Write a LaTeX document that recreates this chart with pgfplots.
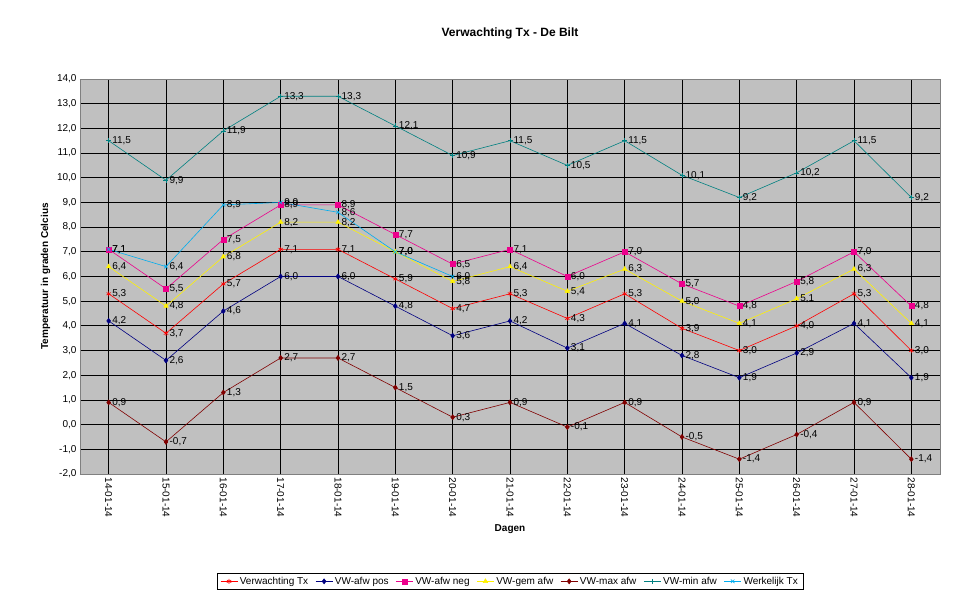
\documentclass[border=0pt]{standalone}
\usepackage{pgfplots}
\pgfplotsset{compat=1.18}
\usetikzlibrary{calc}
\usepackage{fontspec}
\setmainfont{Liberation Sans}
\definecolor{bg}{RGB}{192,192,192}
\definecolor{navy}{RGB}{0,0,128}
\definecolor{maroon}{RGB}{128,0,0}
\definecolor{teal2}{RGB}{0,128,128}
\begin{document}
\begin{tikzpicture}
\begin{axis}[name=ax,
 scale only axis, width=860pt, height=395pt,
 xmin=-0.5, xmax=14.5, ymin=-2, ymax=14,
 ytick={-2,-1,...,14}, xtick={0,...,14},
 xticklabels={14-01-14,15-01-14,16-01-14,17-01-14,18-01-14,19-01-14,20-01-14,21-01-14,22-01-14,23-01-14,24-01-14,25-01-14,26-01-14,27-01-14,28-01-14},
 xticklabel style={rotate=-90,anchor=west,font=\normalsize},
 yticklabel style={font=\normalsize},
 /pgf/number format/assume math mode=true,
 /pgf/number format/.cd,use comma,fixed,fixed zerofill,precision=1,/pgfplots/.cd,
 ymajorgrids, xmajorgrids, grid style={black,line width=0.8pt},
 major tick length=0pt,
 axis background/.style={fill=bg},
 axis line style={gray},
 title={\textbf{Verwachting Tx - De Bilt}}, title style={font=\large,yshift=30pt},
 xlabel={\textbf{Dagen}}, ylabel={\textbf{Temperatuur in graden Celcius}},
 label style={font=\normalsize},
 nodes near coords, every node near coord/.style={anchor=west,font=\normalsize,text=black,
   /pgf/number format/.cd,use comma,fixed,fixed zerofill,precision=1},
 legend columns=-1,
 legend style={at={(0.5,-0.25)},anchor=north,font=\normalsize,draw=black,/tikz/every even column/.append style={column sep=5pt}},
 every axis plot/.append style={line width=0.6pt, mark size=2.5pt},
]
\addplot[red,mark=asterisk] coordinates {(0,5.3)(1,3.7)(2,5.7)(3,7.1)(4,7.1)(5,5.9)(6,4.7)(7,5.3)(8,4.3)(9,5.3)(10,3.9)(11,3.0)(12,4.0)(13,5.3)(14,3.0)};
\addplot[navy,mark=diamond*] coordinates {(0,4.2)(1,2.6)(2,4.6)(3,6.0)(4,6.0)(5,4.8)(6,3.6)(7,4.2)(8,3.1)(9,4.1)(10,2.8)(11,1.9)(12,2.9)(13,4.1)(14,1.9)};
\addplot[magenta,mark=square*] coordinates {(0,7.1)(1,5.5)(2,7.5)(3,8.9)(4,8.9)(5,7.7)(6,6.5)(7,7.1)(8,6.0)(9,7.0)(10,5.7)(11,4.8)(12,5.8)(13,7.0)(14,4.8)};
\addplot[yellow,mark=triangle*] coordinates {(0,6.4)(1,4.8)(2,6.8)(3,8.2)(4,8.2)(5,7.0)(6,5.8)(7,6.4)(8,5.4)(9,6.3)(10,5.0)(11,4.1)(12,5.1)(13,6.3)(14,4.1)};
\addplot[maroon,mark=diamond*] coordinates {(0,0.9)(1,-0.7)(2,1.3)(3,2.7)(4,2.7)(5,1.5)(6,0.3)(7,0.9)(8,-0.1)(9,0.9)(10,-0.5)(11,-1.4)(12,-0.4)(13,0.9)(14,-1.4)};
\addplot[teal2,mark=+] coordinates {(0,11.5)(1,9.9)(2,11.9)(3,13.3)(4,13.3)(5,12.1)(6,10.9)(7,11.5)(8,10.5)(9,11.5)(10,10.1)(11,9.2)(12,10.2)(13,11.5)(14,9.2)};
\addplot[cyan,mark=x] coordinates {(0,7.1)(1,6.4)(2,8.9)(3,9.0)(4,8.6)(5,7.0)(6,6.0)};
\legend{Verwachting Tx,VW-afw pos,VW-afw neg,VW-gem afw,VW-max afw,VW-min afw,Werkelijk Tx}
\end{axis}
\path[use as bounding box] ($(ax.south west)+(-80pt,-127pt)$) rectangle ($(ax.south west)+(889pt,474pt)$);
\end{tikzpicture}
\end{document}
